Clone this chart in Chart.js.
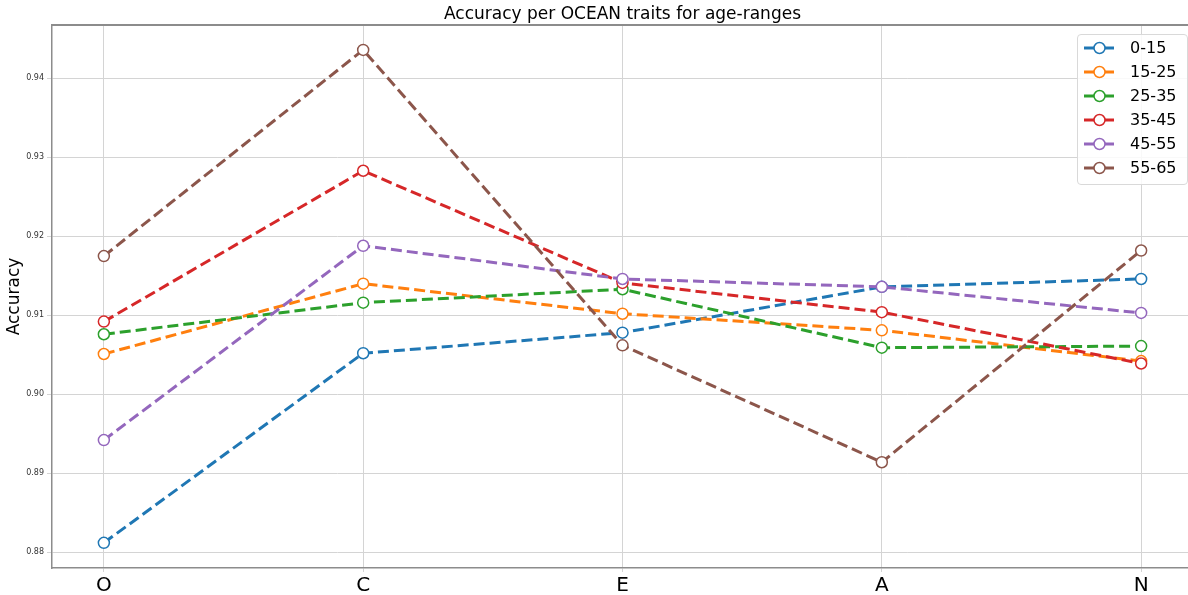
<!DOCTYPE html>
<html>
<head>
<meta charset="utf-8">
<script src="https://cdn.jsdelivr.net/npm/chart.js@4.4.0/dist/chart.umd.min.js"></script>
<style>
  html, body { margin: 0; padding: 0; overflow: hidden; background: #fff; }
  #wrap { position: relative; width: 1188px; height: 595px; overflow: hidden; }
  #myChart { display: block; }
  #topSpine {
    position: absolute; left: 51px; top: 24px; width: 1140px; height: 1.5px;
    background: #8c8c8c;
  }
  #legend {
    position: absolute; left: 1077px; top: 34px; width: 111px; height: 151px;
    box-sizing: border-box; padding-top: 0.5px;
    border: 1px solid #d9d9d9; border-radius: 4px;
    background: rgba(255, 255, 255, 0.85);
    font: 16px "DejaVu Sans"; color: #000;
  }
  #legend .row { position: relative; height: 24px; line-height: 24px; }
  #legend svg { position: absolute; left: 5px; top: 0; }
  #legend span { position: absolute; left: 52px; top: 0; }
</style>
</head>
<body>
<div id="wrap">
  <canvas id="myChart" width="1200" height="595"></canvas>
  <div id="topSpine"></div>
  <div id="legend"></div>
</div>
<script>
let traits = ['O', 'C', 'E', 'A', 'N'];
let ageRanges = ['0-15', '15-25', '25-35', '35-45', '45-55', '55-65'];
let acc0to15 = [0.8812, 0.9052, 0.9078, 0.9136, 0.9146];
let acc15to25 = [0.9051, 0.9140, 0.9102, 0.9081, 0.9042];
let acc25to35 = [0.9076, 0.9116, 0.9133, 0.9059, 0.9061];
let acc35to45 = [0.9092, 0.9283, 0.9141, 0.9104, 0.9039];
let acc45to55 = [0.8942, 0.9188, 0.9146, 0.9136, 0.9103];
let acc55to65 = [0.9175, 0.9436, 0.9062, 0.8914, 0.9182];
let yTicks = [0.88, 0.89, 0.90, 0.91, 0.92, 0.93, 0.94];
let colors = ['#1f77b4', '#ff7f0e', '#2ca02c', '#d62728', '#9467bd', '#8c564b'];

let series = [acc0to15, acc15to25, acc25to35, acc35to45, acc45to55, acc55to65];
let font = 'DejaVu Sans';
let gridColor = '#d4d4d4';
let spineColor = '#8c8c8c';

let datasets = series.map((vals, i) => ({
    label: ageRanges[i],
    data: vals.map((v, j) => ({ x: j, y: v })),
    borderColor: colors[i],
    borderWidth: 3,
    borderDash: [11, 5],
    pointRadius: 5.5,
    pointBorderWidth: 1.5,
    pointBorderColor: colors[i],
    pointBackgroundColor: '#fff',
    tension: 0,
    order: -i
}));

// legend rows: line with open marker, then the age range
let legend = document.getElementById('legend');
datasets.forEach(ds => {
    let row = document.createElement('div');
    row.className = 'row';
    row.innerHTML =
        '<svg width="32" height="24">' +
        '<line x1="1" y1="12" x2="31" y2="12" stroke="' + ds.borderColor + '" stroke-width="3"/>' +
        '<circle cx="16.5" cy="12" r="5.5" fill="#fff" stroke="' + ds.borderColor + '" stroke-width="1.5"/>' +
        '</svg><span></span>';
    row.querySelector('span').textContent = ds.label;
    legend.appendChild(row);
});

let ctx = document.getElementById('myChart').getContext('2d');

let chart = new Chart(ctx, {
    type: 'line',
    data: { datasets: datasets },
    options: {
        responsive: false,
        animation: false,
        // the canvas is wider than the page so the plot runs past the right edge
        layout: { padding: { left: 0, right: 7, top: 0, bottom: 0 } },
        plugins: {
            legend: { display: false },
            tooltip: { enabled: false },
            title: {
                display: true,
                fullSize: false,
                text: 'Accuracy per OCEAN traits for age-ranges',
                color: '#000',
                font: { family: font, size: 17, weight: 'normal' },
                padding: { top: 4, bottom: 0.6 }
            }
        },
        scales: {
            x: {
                type: 'linear',
                min: -0.2,
                max: 4.2,
                afterBuildTicks: s => { s.ticks = traits.map((t, i) => ({ value: i })); },
                afterFit: s => { s.height = 27; },
                ticks: {
                    callback: v => traits[v],
                    color: '#000',
                    font: { family: font, size: 20 },
                    padding: 2,
                    maxRotation: 0,
                    autoSkip: false
                },
                grid: { color: gridColor, lineWidth: 1, tickLength: 4 },
                border: { color: spineColor, width: 1.5 }
            },
            y: {
                min: 0.87801,
                max: 0.94675,
                afterBuildTicks: s => { s.ticks = yTicks.map(v => ({ value: v })); },
                afterFit: s => { s.width = 52; },
                ticks: {
                    callback: v => v.toFixed(2),
                    color: '#333',
                    font: { family: font, size: 8 },
                    padding: 3
                },
                grid: { color: gridColor, lineWidth: 1, tickLength: 5 },
                border: { color: spineColor, width: 1.5 },
                title: {
                    display: true,
                    text: 'Accuracy',
                    color: '#000',
                    font: { family: font, size: 17 },
                    padding: { top: 4, bottom: 0 }
                }
            }
        }
    }
});
</script>
</body>
</html>
